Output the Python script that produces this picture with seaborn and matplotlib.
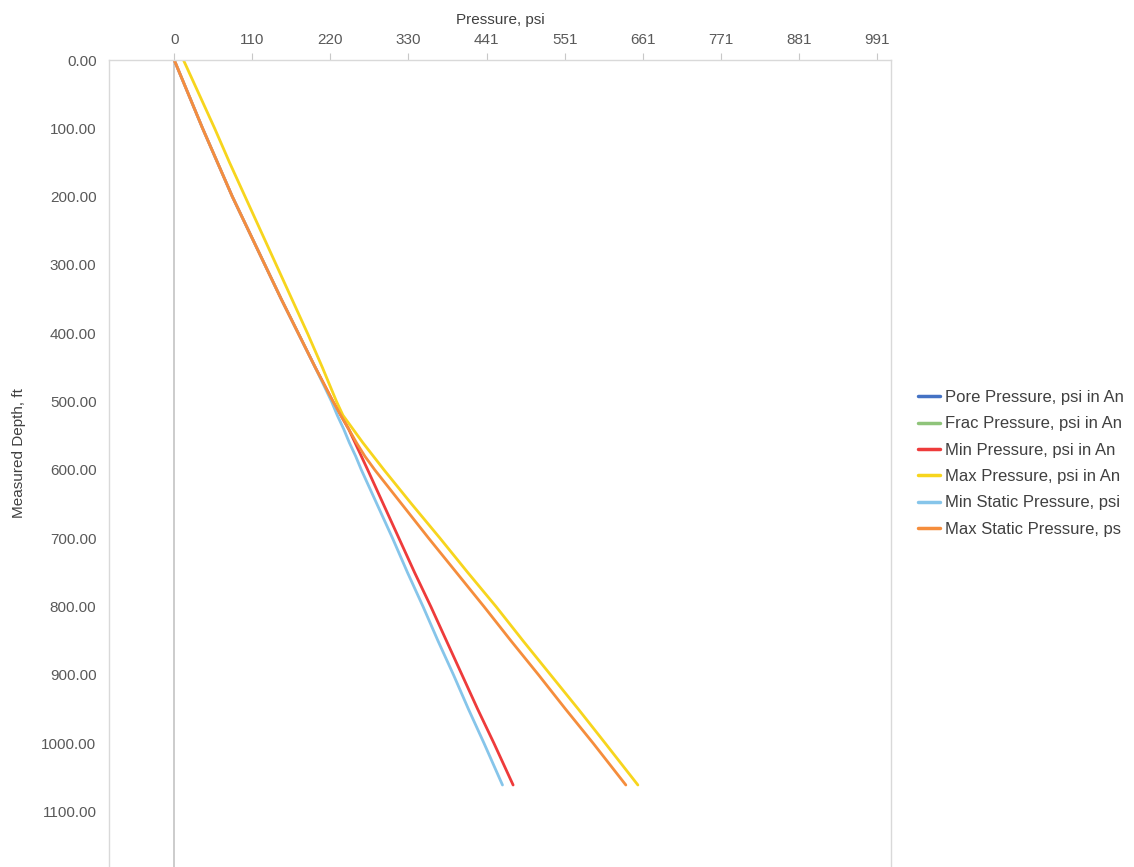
import numpy as np
import pandas as pd
import seaborn as sns
import matplotlib.pyplot as plt
from matplotlib.lines import Line2D

# depth stations, ft
depth = [0, 50, 100, 150, 200, 250, 300, 350, 400, 450, 500, 520, 540, 560, 580,
         600, 650, 700, 750, 800, 850, 900, 950, 1000, 1061]

# pressures, psi
max_static = [0, 20, 40, 61, 82, 105, 128, 151, 175, 199, 224, 235, 246, 257, 269,
              283, 321, 359, 398, 437, 475, 514, 552, 591, 637]
max_press = [13, 35, 57, 78, 100, 122, 144, 166, 188, 209, 229, 238, 252, 266, 281,
             296, 335, 375, 414, 454, 492, 531, 570, 608, 654]
min_press = [0, 20, 40, 61, 82, 105, 128, 151, 175, 199, 224, 235, 246, 255, 264,
             273, 295, 317, 339, 362, 384, 406, 428, 451, 478]
min_static = [0, 20, 40, 61, 82, 105, 128, 151, 175, 199, 222, 230, 239, 247, 256,
              264, 286, 308, 329, 351, 372, 394, 415, 437, 463]

# legend labels as far as they show before the image edge
series_names = ['Pore Pressure, psi in An', 'Frac Pressure, psi in An',
                'Min Pressure, psi in An', 'Max Pressure, psi in An',
                'Min Static Pressure, psi', 'Max Static Pressure, ps']
colors = ['#4472c4', '#8fc47a', '#ee3b3b', '#f7d51d', '#86c5ea', '#f58d3c']

x_ticks = [0, 110.14, 220.28, 330.42, 440.56, 550.7, 660.84, 770.98, 881.12, 991.26]
y_ticks = [0, 100, 200, 300, 400, 500, 600, 700, 800, 900, 1000, 1100]

frames = []
for name, vals in zip(series_names[2:], [min_press, max_press, min_static, max_static]):
    frames.append(pd.DataFrame({'depth': depth, 'pressure': vals, 'series': name}))
df = pd.concat(frames, ignore_index=True)

sns.set_theme(style='white')
plt.rcParams['font.family'] = ['Liberation Sans', 'DejaVu Sans']

fig = plt.figure(figsize=(11.34, 8.67), dpi=100)
ax = fig.add_axes([109 / 1134, 0, 782 / 1134, 807 / 867])

pal = dict(zip(series_names, colors))
ax.axvline(0, color='#c4c4c4', lw=1.2, zorder=1)
sns.lineplot(data=df, x='pressure', y='depth', hue='series', hue_order=series_names[2:],
             palette=pal, sort=False, estimator=None, linewidth=2.0, legend=False, ax=ax)

ax.set_xlim(-92, 1011)
ax.set_ylim(1181, 0)
ax.xaxis.tick_top()
ax.xaxis.set_label_position('top')
ax.set_xticks(x_ticks)
ax.set_xticklabels([f'{v:.0f}' for v in x_ticks])
ax.set_yticks(y_ticks)
ax.set_yticklabels([f'{v:.2f}' for v in y_ticks])
ax.tick_params(axis='both', labelsize=11, length=5, width=0.8, direction='out', pad=4,
               colors='#c8c8c8', labelcolor='#595959')
ax.set_xlabel('Pressure, psi', fontsize=11, color='#404040', labelpad=7)
ax.set_ylabel('Measured Depth, ft', fontsize=11, color='#404040')
ax.yaxis.set_label_coords(-0.106, 0.513)

for side in ['top', 'left', 'right']:
    ax.spines[side].set_color('#d9d9d9')
    ax.spines[side].set_linewidth(1.0)
ax.spines['bottom'].set_visible(False)

handles = [Line2D([], [], color=c, lw=2.5) for c in colors]
fig.legend(handles, series_names, loc='upper left', bbox_to_anchor=(918 / 1134, 1 - 390 / 867),
           frameon=False, fontsize=12, labelcolor='#404040', handlelength=1.3,
           handletextpad=0.3, labelspacing=0.68, borderpad=0, borderaxespad=0)

fig.savefig('out.png', dpi=100)
